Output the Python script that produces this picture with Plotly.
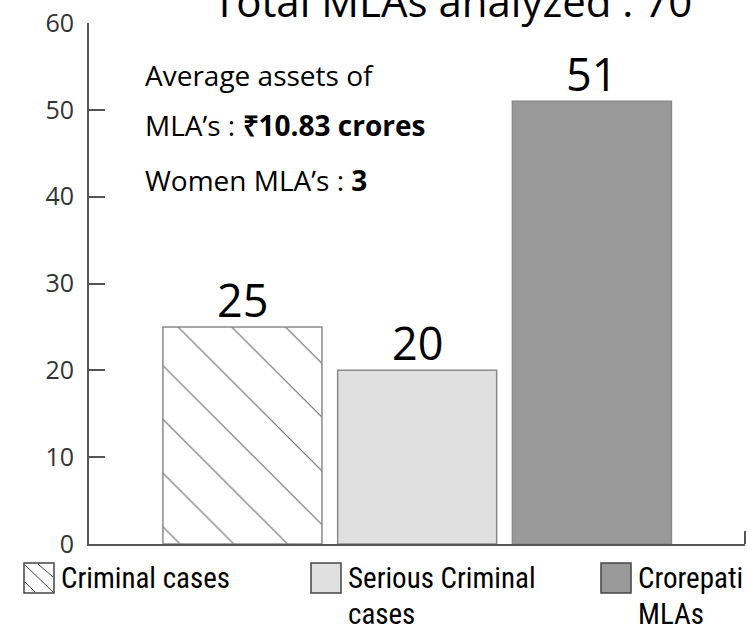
import plotly.graph_objects as go

# data
categories = ["Criminal cases", "Serious Criminal cases", "Crorepati MLAs"]
values = [25, 20, 51]
bar_colors = ["#ffffff", "#e0e0e0", "#999999"]
hatch = ["\\", "", ""]
y_ticks = [0, 10, 20, 30, 40, 50, 60]

legend_lines = [["Criminal cases"], ["Serious Criminal", "cases"], ["Crorepati", "MLAs"]]

title_text = "Total MLAs analyzed : 70"
info_lines = [
    "Average assets of",
    "MLA’s : <b>₹10.83 crores</b>",
    "Women MLA’s : <b>3</b>",
]

W, H = 747, 625
L, R, T, B = 89, 2, 23, 81
PW, PH = W - L - R, H - T - B


def px(x):
    return (x - L) / PW


def py(y):
    return (H - B - y) / PH


fig = go.Figure()
for cat, val, col, hs in zip(categories, values, bar_colors, hatch):
    marker = dict(color=col, line=dict(color="#8a8a8a", width=1.5))
    if hs:
        marker["pattern"] = dict(shape=hs, fgcolor="#6a6a6a", bgcolor=col, fgopacity=1,
                                 size=38, solidity=0.03)
    fig.add_trace(go.Bar(x=[cat], y=[val], width=0.91, marker=marker,
                         showlegend=False, hoverinfo="x+y"))

annotations = []
# value labels above the bars
for cat, val in zip(categories, values):
    annotations.append(dict(text=str(val), x=cat, y=val, xref="x", yref="y",
                            showarrow=False, xanchor="center", yanchor="bottom", yshift=-5,
                            font=dict(family="Open Sans", size=45, color="#000000")))

# title, mostly cut off at the top of the picture
annotations.append(dict(text=title_text, x=px(452), y=py(1), xref="paper", yref="paper",
                        showarrow=False, xanchor="center", yanchor="middle",
                        font=dict(family="Open Sans", size=42, color="#000000")))

for txt, yy in zip(info_lines, [75, 125, 180]):
    annotations.append(dict(text=txt, x=px(143), y=py(yy), xref="paper", yref="paper",
                            showarrow=False, xanchor="left", yanchor="middle",
                            font=dict(family="Open Sans", size=28, color="#000000")))

shapes = []
# right end mark of the x axis
shapes.append(dict(type="line", xref="paper", yref="paper", x0=1, x1=1, y0=0, y1=py(531),
                   line=dict(color="#555555", width=2)))

box_x = [24, 311, 601]
box_top, box_size = 563, 30
for i, lines in enumerate(legend_lines):
    x0 = box_x[i]
    shapes.append(dict(type="rect", xref="paper", yref="paper",
                       x0=px(x0), x1=px(x0 + box_size), y0=py(box_top + box_size), y1=py(box_top),
                       fillcolor=bar_colors[i], line=dict(color="#444444", width=1.5)))
    if hatch[i]:
        for a, b, c, d in [(1, 2, 29, 29), (14, 1, 29, 14), (1, 19, 11, 29)]:
            shapes.append(dict(type="line", xref="paper", yref="paper",
                               x0=px(x0 + a), y0=py(box_top + b), x1=px(x0 + c), y1=py(box_top + d),
                               line=dict(color="#444444", width=1)))
    for j, ln in enumerate(lines):
        annotations.append(dict(text=ln, x=px(x0 + box_size + 5), y=py(box_top + 15 + 36 * j),
                                xref="paper", yref="paper", showarrow=False,
                                xanchor="left", yanchor="middle",
                                font=dict(family="Roboto Condensed, Roboto", size=29,
                                          color="#000000")))

fig.update_layout(
    width=W, height=H,
    margin=dict(l=L, r=R, t=T, b=B),
    plot_bgcolor="white", paper_bgcolor="white",
    barmode="overlay",
    annotations=annotations,
    shapes=shapes,
)
fig.update_xaxes(range=[-0.878, 2.876], showline=True, linecolor="#555555", linewidth=2,
                 showticklabels=False, ticks="", showgrid=False, zeroline=False)
fig.update_yaxes(range=[0, 60], tickvals=y_ticks, showline=True, linecolor="#555555", linewidth=2,
                 ticks="inside", ticklen=16, tickwidth=2, tickcolor="#555555",
                 ticklabelstandoff=8, showgrid=False, zeroline=False,
                 tickfont=dict(family="Open Sans", size=25, color="#333333"))

# the page body has a default 8px margin; drop it so the chart sits at the window corner
fig.write_html("out.html", config={"displayModeBar": False},
               post_script="document.body.style.margin='0';")
